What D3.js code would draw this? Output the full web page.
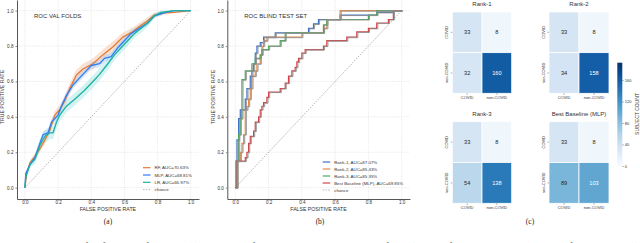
<!DOCTYPE html>
<html>
<head>
<meta charset="utf-8">
<script src="https://cdn.jsdelivr.net/npm/d3@7"></script>
<style>
  body { margin: 0; background: #fff; }
  svg { display: block; font-family: "Liberation Sans", Arial, sans-serif; }
</style>
</head>
<body>
<script>
// ---- data ----
const rocTicks = [0, 0.2, 0.4, 0.6, 0.8, 1.0];

const valNames = ['RF, AUC=70.63%', 'MLP, AUC=68.81%', 'LR, AUC=66.97%'];
const rfRoc = [[0,0],[0.01,0.08],[0.03,0.14],[0.06,0.175],[0.09,0.22],[0.12,0.27],[0.15,0.325],[0.18,0.41],[0.21,0.44],[0.24,0.49],[0.27,0.56],[0.31,0.635],[0.35,0.67],[0.41,0.70],[0.47,0.75],[0.53,0.795],[0.59,0.85],[0.65,0.88],[0.69,0.91],[0.73,0.935],[0.78,0.975],[0.84,0.987],[0.90,0.99],[1,1]];
const rfSpread = [0,0.01,0.015,0.02,0.02,0.025,0.025,0.025,0.025,0.03,0.03,0.03,0.03,0.03,0.03,0.03,0.025,0.025,0.02,0.02,0.015,0.01,0.005,0];
const mlpRoc = [[0,0],[0.005,0.08],[0.03,0.13],[0.06,0.17],[0.09,0.25],[0.11,0.3],[0.14,0.31],[0.16,0.37],[0.2,0.41],[0.22,0.46],[0.25,0.52],[0.29,0.58],[0.33,0.62],[0.36,0.65],[0.4,0.69],[0.45,0.7],[0.48,0.73],[0.52,0.74],[0.56,0.79],[0.6,0.83],[0.64,0.87],[0.69,0.9],[0.74,0.93],[0.78,0.97],[0.85,0.99],[0.9,1],[1,1]];
const mlpSpread = [0,0.01,0.01,0.015,0.02,0.02,0.02,0.02,0.02,0.02,0.02,0.02,0.02,0.02,0.02,0.02,0.02,0.02,0.02,0.02,0.02,0.015,0.015,0.01,0.005,0,0];
const lrRoc = [[0,0],[0.005,0.06],[0.03,0.13],[0.06,0.16],[0.09,0.24],[0.12,0.29],[0.15,0.31],[0.17,0.31],[0.19,0.37],[0.21,0.41],[0.25,0.46],[0.3,0.5],[0.36,0.55],[0.4,0.59],[0.45,0.64],[0.5,0.7],[0.54,0.75],[0.58,0.79],[0.62,0.83],[0.66,0.87],[0.7,0.9],[0.74,0.93],[0.78,0.97],[0.82,0.99],[0.9,1],[1,1]];
const lrSpread = [0,0.015,0.02,0.025,0.03,0.035,0.035,0.035,0.035,0.035,0.035,0.035,0.035,0.035,0.035,0.035,0.03,0.03,0.03,0.025,0.025,0.02,0.015,0.01,0,0];

const testNames = ['Rank-1, AUC=87.07%', 'Rank-2, AUC=85.43%', 'Rank-3, AUC=85.35%', 'Best Baseline (MLP), AUC=69.85%'];
const rank1Roc = [[0,0],[0.005,0.15],[0.01,0.27],[0.02,0.39],[0.03,0.44],[0.06,0.5],[0.07,0.56],[0.09,0.63],[0.1,0.66],[0.11,0.7],[0.12,0.76],[0.13,0.8],[0.15,0.82],[0.17,0.85],[0.24,0.875],[0.44,0.9],[0.47,0.925],[0.5,0.95],[0.63,0.975],[0.85,0.99],[0.95,1],[1,1]];
const rank2Roc = [[0,0],[0.01,0.15],[0.03,0.2],[0.04,0.25],[0.05,0.3],[0.06,0.44],[0.07,0.46],[0.08,0.5],[0.09,0.56],[0.1,0.63],[0.12,0.66],[0.13,0.7],[0.15,0.75],[0.16,0.8],[0.17,0.83],[0.19,0.85],[0.4,0.875],[0.53,0.9],[0.55,0.95],[0.63,1.0],[1,1]];
const rank3Roc = [[0,0],[0.005,0.15],[0.02,0.3],[0.03,0.39],[0.04,0.61],[0.06,0.66],[0.1,0.7],[0.12,0.73],[0.15,0.75],[0.16,0.78],[0.2,0.8],[0.27,0.83],[0.3,0.875],[0.53,0.92],[0.55,0.95],[0.8,0.975],[0.85,1],[1,1]];
const baseRoc = [[0,0],[0.01,0.15],[0.06,0.17],[0.07,0.2],[0.08,0.25],[0.09,0.29],[0.11,0.32],[0.12,0.37],[0.14,0.4],[0.15,0.44],[0.16,0.46],[0.17,0.48],[0.19,0.51],[0.2,0.54],[0.27,0.56],[0.3,0.59],[0.32,0.63],[0.34,0.66],[0.36,0.68],[0.37,0.71],[0.38,0.73],[0.4,0.76],[0.42,0.78],[0.53,0.8],[0.55,0.83],[0.67,0.85],[0.73,0.88],[0.8,0.9],[0.85,0.93],[0.92,0.95],[0.95,1],[1,1]];

const classes = ['COVID', 'non-COVID'];
const cmTitles = ['Rank-1', 'Rank-2', 'Rank-3', 'Best Baseline (MLP)'];
const cmRank1 = [[33, 8], [32, 160]];
const cmRank2 = [[33, 8], [34, 158]];
const cmRank3 = [[33, 8], [54, 138]];
const cmBase  = [[33, 8], [89, 103]];
const cbarTicks = [0, 40, 80, 120, 160];

const subLabels = ['(a)', '(b)', '(c)'];
const caption = 'Figure 2:  Illustration of performance of proposed (a) mean ROC of the baseline models on validation folds (a), ROC of the ranked models (b) and confusion matrices (c)';

// ---- drawing ----
const W = 640, H = 243;
const svg = d3.select('body').append('svg').attr('width', W).attr('height', H);

function rocAxes(left, right, title, yTitleX) {
  let x = d3.scaleLinear().domain([-0.048, 1.05]).range([left, right]);
  let y = d3.scaleLinear().domain([-0.064, 1.06]).range([199, 0]);
  let g = svg.append('g');

  // dotted grid
  g.selectAll('line.gx').data(rocTicks).enter().append('line')
    .attr('x1', d => x(d)).attr('x2', d => x(d)).attr('y1', 0).attr('y2', 199)
    .attr('stroke', '#d6d6d6').attr('stroke-width', 0.6).attr('stroke-dasharray', '1,1.2');
  g.selectAll('line.gy').data(rocTicks).enter().append('line')
    .attr('y1', d => y(d)).attr('y2', d => y(d)).attr('x1', left).attr('x2', right)
    .attr('stroke', '#d6d6d6').attr('stroke-width', 0.6).attr('stroke-dasharray', '1,1.2');

  let xAxis = d3.axisBottom(x).tickValues(rocTicks).tickFormat(d3.format('.1f')).tickSize(1.5).tickSizeOuter(0).tickPadding(0.6);
  let yAxis = d3.axisLeft(y).tickValues(rocTicks).tickFormat(d3.format('.1f')).tickSize(1.5).tickSizeOuter(0).tickPadding(2);
  let ax = g.append('g').attr('transform', 'translate(0,199)').call(xAxis);
  let ay = g.append('g').attr('transform', 'translate(' + left + ',0)').call(yAxis);
  [ax, ay].forEach(a => {
    a.select('.domain').attr('stroke', '#444').attr('stroke-width', 0.9);
    a.selectAll('.tick line').attr('stroke', '#444').attr('stroke-width', 0.6);
    a.selectAll('text').attr('font-size', 4.6).attr('fill', '#333').attr('font-family', 'Liberation Sans, Arial, sans-serif');
  });

  g.append('text').attr('x', (x(0) + x(1)) / 2).attr('y', 211)
    .attr('text-anchor', 'middle').attr('font-size', 5.2).attr('fill', '#333').text('FALSE POSITIVE RATE');
  g.append('text').attr('transform', 'translate(' + yTitleX + ',97) rotate(-90)')
    .attr('text-anchor', 'middle').attr('font-size', 5.2).attr('fill', '#333').text('TRUE POSITIVE RATE');
  g.append('text').attr('x', x(0) + 9).attr('y', 17.5)
    .attr('font-size', 6).attr('fill', '#333').text(title);

  // chance line
  g.append('line').attr('x1', x(0)).attr('y1', y(0)).attr('x2', x(1)).attr('y2', y(1))
    .attr('stroke', '#8a8a8a').attr('stroke-width', 0.6).attr('stroke-dasharray', '1.6,1.2');
  return { g: g, x: x, y: y };
}

function legend(g, x0, y0, step, names, colors) {
  let items = names.concat(['chance']);
  items.forEach((n, i) => {
    let yy = y0 + i * step;
    g.append('line').attr('x1', x0).attr('x2', x0 + 7.5).attr('y1', yy).attr('y2', yy)
      .attr('stroke', i < colors.length ? colors[i] : '#8a8a8a')
      .attr('stroke-width', i < colors.length ? 1.2 : 0.6)
      .attr('stroke-dasharray', i < colors.length ? null : '1.6,1.2');
    g.append('text').attr('x', x0 + 11.5).attr('y', yy + 1.6)
      .attr('font-size', 4.4).attr('fill', '#333').text(n);
  });
}

// panel (a)
let pa = rocAxes(17, 199, 'ROC VAL FOLDS', 4);
let valCurves = [rfRoc, mlpRoc, lrRoc];
let valSpreads = [rfSpread, mlpSpread, lrSpread];
let valColors = ['#e07b39', '#2f7df6', '#1cb0a0'];
let valBands = ['#f2b48c', '#9cc4f7', '#8fe0dc'];
valCurves.forEach((c, i) => {
  let area = d3.area()
    .x(d => pa.x(d[0]))
    .y0((d, j) => pa.y(Math.max(0, d[1] - valSpreads[i][j])))
    .y1((d, j) => pa.y(Math.min(1, d[1] + valSpreads[i][j])));
  pa.g.append('path').attr('d', area(c)).attr('fill', valBands[i]).attr('opacity', 0.4);
});
valCurves.forEach((c, i) => {
  let line = d3.line().x(d => pa.x(d[0])).y(d => pa.y(d[1]));
  pa.g.append('path').attr('d', line(c)).attr('fill', 'none')
    .attr('stroke', valColors[i]).attr('stroke-width', 1.3).attr('stroke-linejoin', 'round');
});
legend(pa.g, 143, 167.7, 7.3, valNames, valColors);

// panel (b)
let pb = rocAxes(227.3, 410, 'ROC BLIND TEST SET', 215);
let testCurves = [rank1Roc, rank2Roc, rank3Roc, baseRoc];
let testColors = ['#3f73c6', '#e58a48', '#4aa95a', '#d0474b'];
let stepLine = d3.line().x(d => pb.x(d[0])).y(d => pb.y(d[1])).curve(d3.curveStepAfter);
testCurves.forEach((c, i) => {
  pb.g.append('path').attr('d', stepLine(c)).attr('fill', 'none')
    .attr('stroke', testColors[i]).attr('stroke-width', 1.2);
});
// grey overlay copies, slightly shifted
testCurves.forEach((c, i) => {
  pb.g.append('path').attr('d', stepLine(c)).attr('fill', 'none')
    .attr('transform', 'translate(1.1,0.5)')
    .attr('stroke', '#8e8e8e').attr('stroke-width', 1.0).attr('opacity', 0.9);
});
legend(pb.g, 322.7, 162, 7, testNames, testColors);

// panel (c) confusion matrices
let cmax = 192;
let color = d3.scaleSequential(d3.interpolateBlues).domain([0, cmax]);
let cms = [cmRank1, cmRank2, cmRank3, cmBase];
let cmBoxes = [[452.3, 511.7, 12, 93.3], [549, 609, 12, 93.3], [452.3, 511.7, 121.7, 203.3], [549, 609, 121.7, 203.3]];

function lum(c) {
  let rgb = d3.rgb(c);
  let f = v => { v /= 255; return v <= 0.03928 ? v / 12.92 : Math.pow((v + 0.055) / 1.055, 2.4); };
  return 0.2126 * f(rgb.r) + 0.7152 * f(rgb.g) + 0.0722 * f(rgb.b);
}

cms.forEach((m, k) => {
  let b = cmBoxes[k];
  let x = d3.scaleBand().domain(classes).range([b[0], b[1]]);
  let y = d3.scaleBand().domain(classes).range([b[2], b[3]]);
  let g = svg.append('g');
  classes.forEach((rc, r) => {
    classes.forEach((cc, c) => {
      let v = m[r][c];
      let fill = color(v);
      g.append('rect').attr('x', x(cc)).attr('y', y(rc))
        .attr('width', x.bandwidth()).attr('height', y.bandwidth())
        .attr('fill', fill).attr('stroke', '#fff').attr('stroke-width', 0.8);
      g.append('text').attr('x', x(cc) + x.bandwidth() / 2).attr('y', y(rc) + y.bandwidth() / 2 + 2)
        .attr('text-anchor', 'middle').attr('font-size', 5.6)
        .attr('fill', lum(fill) < 0.408 ? '#fff' : '#262626').text(v);
    });
  });
  let xa = g.append('g').attr('transform', 'translate(0,' + b[3] + ')')
    .call(d3.axisBottom(x).tickSize(1.5).tickPadding(1.2));
  let ya = g.append('g').attr('transform', 'translate(' + b[0] + ',0)')
    .call(d3.axisLeft(y).tickSize(1.5).tickPadding(1.2));
  [xa, ya].forEach(a => {
    a.select('.domain').remove();
    a.selectAll('.tick line').attr('stroke', '#555').attr('stroke-width', 0.5);
    a.selectAll('text').attr('font-size', 4).attr('fill', '#333').attr('font-family', 'Liberation Sans, Arial, sans-serif');
  });
  ya.selectAll('.tick text').attr('text-anchor', 'middle').attr('x', 0).attr('dy', 0)
    .attr('transform', 'translate(-4.2,0) rotate(-90)');
  g.append('text').attr('x', (b[0] + b[1]) / 2).attr('y', b[2] - 6)
    .attr('text-anchor', 'middle').attr('font-size', 6).attr('fill', '#333').text(cmTitles[k]);
});

// colorbar
let cbY = d3.scaleLinear().domain([0, cmax]).range([166, 62.7]);
let defs = svg.append('defs');
let grad = defs.append('linearGradient').attr('id', 'cb').attr('x1', 0).attr('y1', 1).attr('x2', 0).attr('y2', 0);
d3.range(0, 1.001, 0.1).forEach(t => {
  grad.append('stop').attr('offset', t).attr('stop-color', d3.interpolateBlues(t));
});
svg.append('rect').attr('x', 617.3).attr('y', cbY(cmax)).attr('width', 5)
  .attr('height', cbY(0) - cbY(cmax)).attr('fill', 'url(#cb)');
let cba = svg.append('g').attr('transform', 'translate(622.3,0)')
  .call(d3.axisRight(cbY).tickValues(cbarTicks).tickSize(1.5).tickPadding(1));
cba.select('.domain').remove();
cba.selectAll('.tick line').attr('stroke', '#555').attr('stroke-width', 0.5);
cba.selectAll('text').attr('font-size', 4).attr('fill', '#333').attr('font-family', 'Liberation Sans, Arial, sans-serif');
svg.append('text').attr('transform', 'translate(639,114) rotate(-90)')
  .attr('text-anchor', 'middle').attr('font-size', 5).attr('fill', '#333').text('SUBJECT COUNT');

// sub-figure labels and caption (caption is cut by the bottom edge, as in the source)
let subX = [108, 320, 530];
subLabels.forEach((s, i) => {
  svg.append('text').attr('x', subX[i]).attr('y', 223.8).attr('text-anchor', 'middle')
    .attr('font-family', 'Liberation Serif, serif').attr('font-size', 7.5).attr('fill', '#222').text(s);
});
svg.append('text').attr('x', 0).attr('y', 249.6).attr('font-family', 'Liberation Serif, serif')
  .attr('font-size', 11).attr('fill', '#222').attr('textLength', 640).text(caption);
</script>
</body>
</html>
